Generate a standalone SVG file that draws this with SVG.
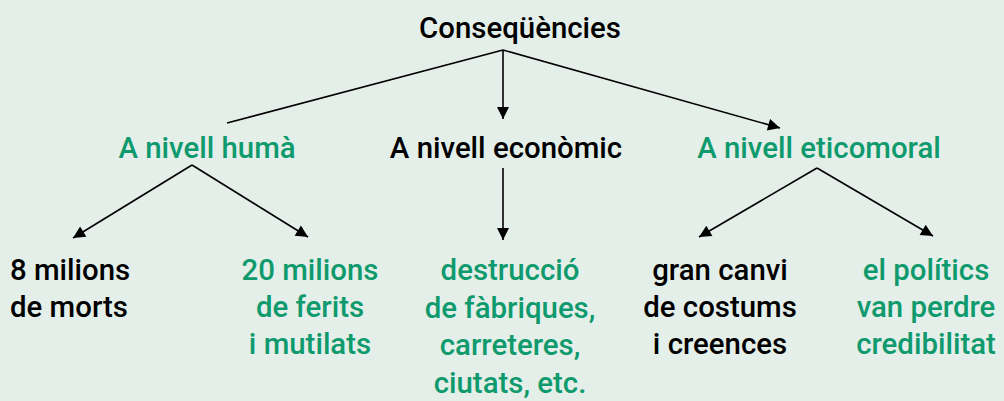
<svg xmlns="http://www.w3.org/2000/svg" width="1004" height="401" viewBox="0 0 1004 401">
<defs>
<style>
text{font-family:Roboto,"Liberation Sans",sans-serif;font-size:29.4px;font-weight:500;}
.k{fill:#000;}
.g{fill:#0f9a6d;}
.m{text-anchor:middle;}
.c line{stroke:#000;stroke-width:1.6;fill:none;}
</style>
<marker id="ah2" viewBox="0 0 10 10" refX="10" refY="5" markerWidth="14" markerHeight="12" markerUnits="userSpaceOnUse" orient="auto"><path d="M0,0 L10,5 L0,10 z" fill="#000"/></marker>
</defs>
<rect width="1004" height="401" fill="#e4efe9"/>
<g class="c" id="connectors">
<line x1="503" y1="50" x2="227" y2="123"/>
<line x1="503" y1="50" x2="503" y2="119" marker-end="url(#ah2)"/>
<line x1="503" y1="50" x2="780" y2="128" marker-end="url(#ah2)"/>
<line x1="192" y1="165" x2="73" y2="238" marker-end="url(#ah2)"/>
<line x1="192" y1="165" x2="308" y2="237" marker-end="url(#ah2)"/>
<line x1="503" y1="168" x2="503" y2="240" marker-end="url(#ah2)"/>
<line x1="817" y1="168" x2="699" y2="237" marker-end="url(#ah2)"/>
<line x1="817" y1="168" x2="933" y2="236" marker-end="url(#ah2)"/>
</g>
<g id="n-root"><text class="k m" x="520" y="38">Conseqüències</text></g>
<g id="n-huma"><text class="g m" x="207" y="158">A nivell humà</text></g>
<g id="n-economic"><text class="k m" x="506" y="158">A nivell econòmic</text></g>
<g id="n-eticomoral"><text class="g m" x="819" y="158">A nivell eticomoral</text></g>
<g id="n-morts"><text class="k" x="10" y="280"><tspan x="10">8 milions</tspan><tspan x="10" dy="37">de morts</tspan></text></g>
<g id="n-ferits"><text class="g m" x="310" y="280"><tspan x="310">20 milions</tspan><tspan x="310" dy="37">de ferits</tspan><tspan x="310" dy="37">i mutilats</tspan></text></g>
<g id="n-destruccio"><text class="g m" x="510" y="280"><tspan x="510">destrucció</tspan><tspan x="510" dy="37.5">de fàbriques,</tspan><tspan x="510" dy="37.5">carreteres,</tspan><tspan x="510" dy="37.5">ciutats, etc.</tspan></text></g>
<g id="n-costums"><text class="k m" x="720" y="280"><tspan x="720">gran canvi</tspan><tspan x="720" dy="37">de costums</tspan><tspan x="720" dy="37">i creences</tspan></text></g>
<g id="n-politics"><text class="g m" x="926" y="280"><tspan x="926">el polítics</tspan><tspan x="926" dy="37">van perdre</tspan><tspan x="926" dy="37">credibilitat</tspan></text></g>
</svg>
